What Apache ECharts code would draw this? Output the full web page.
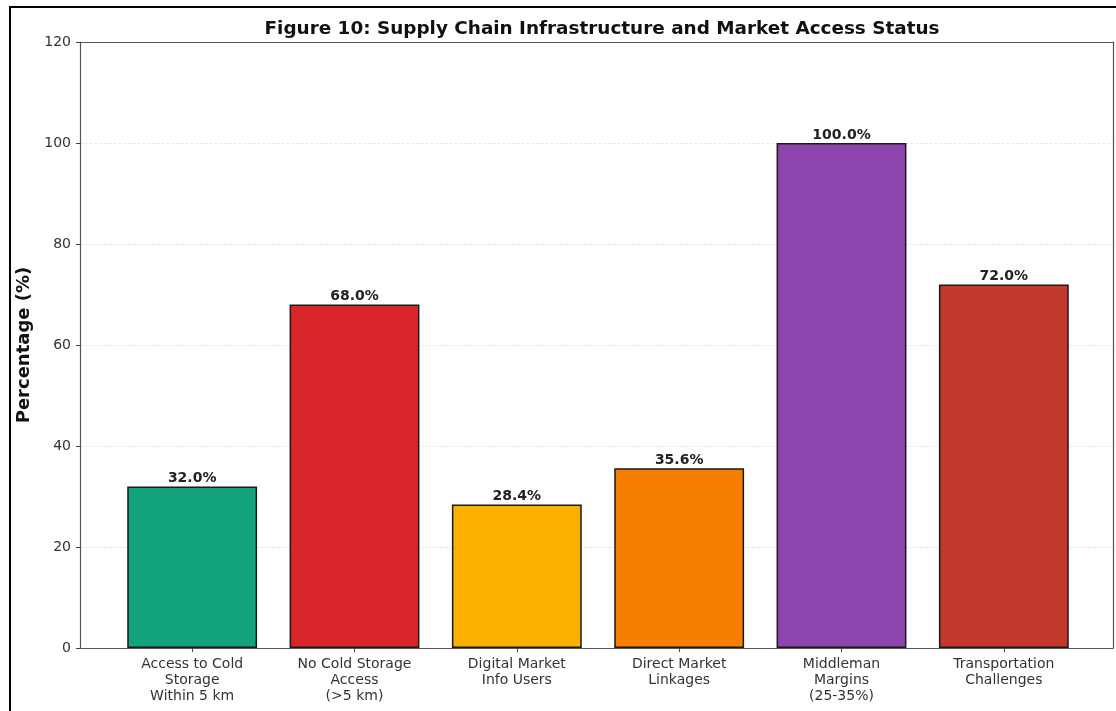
<!DOCTYPE html>
<html>
<head>
<meta charset="utf-8">
<script src="https://cdn.jsdelivr.net/npm/echarts@6/dist/echarts.min.js"></script>
<style>
  html, body { margin: 0; padding: 0; background: #fff; overflow: hidden; }
  #chart { width: 1116px; height: 711px; }
  #frame { position: absolute; left: 9px; top: 6px; width: 1300px; height: 900px;
           border: 2px solid #000; pointer-events: none; }
</style>
</head>
<body>
<div id="chart"></div>
<div id="frame"></div>
<script>
// Supply chain indicators (percent of respondents)
const categories = [
  'Access to Cold\nStorage\nWithin 5 km',
  'No Cold Storage\nAccess\n(>5 km)',
  'Digital Market\nInfo Users',
  'Direct Market\nLinkages',
  'Middleman\nMargins\n(25-35%)',
  'Transportation\nChallenges'
];
const values = [32.0, 68.0, 28.4, 35.6, 100.0, 72.0];
const barColors = ['#12a37b', '#d9262a', '#fcb000', '#f77f00', '#8e44ad', '#c0392b'];
const yTicks = { min: 0, max: 120, interval: 20 };

const chart = echarts.init(document.getElementById('chart'), null, { renderer: 'canvas' });
const font = 'DejaVu Sans';
const spine = { show: true, onZero: false, lineStyle: { color: '#555', width: 1.2 } };

chart.setOption({
  animation: false,
  title: {
    text: 'Figure 10: Supply Chain Infrastructure and Market Access Status',
    left: 597, top: 15, textAlign: 'center',
    textStyle: { fontFamily: font, fontWeight: 'bold', fontSize: 18.4, color: '#111' }
  },
  grid: [
    // frame holding the y scale, gridlines and spines
    { left: 80, right: 3, top: 42, bottom: 63 },
    // bar area (category spacing with side margins)
    { left: 111, right: 31, top: 42, bottom: 63 }
  ],
  xAxis: [
    { gridIndex: 0, type: 'value', min: 0, max: 1, position: 'bottom',
      axisLine: spine, axisTick: { show: false }, axisLabel: { show: false }, splitLine: { show: false } },
    { gridIndex: 0, type: 'value', min: 0, max: 1, position: 'top',
      axisLine: spine, axisTick: { show: false }, axisLabel: { show: false }, splitLine: { show: false } },
    {
      gridIndex: 1, type: 'category', data: categories,
      axisLine: { show: false },
      axisTick: { show: true, alignWithLabel: true, length: 4, lineStyle: { color: '#444' } },
      axisLabel: { fontFamily: font, fontSize: 14, color: '#333', lineHeight: 16, margin: 8, interval: 0 }
    }
  ],
  yAxis: [
    {
      gridIndex: 0, type: 'value', min: yTicks.min, max: yTicks.max, interval: yTicks.interval,
      position: 'left',
      name: 'Percentage (%)', nameLocation: 'middle', nameGap: 40,
      nameTextStyle: { fontFamily: font, fontWeight: 'bold', fontSize: 18, color: '#111' },
      axisLine: spine,
      axisTick: { show: true, length: 4, lineStyle: { color: '#444' } },
      axisLabel: { fontFamily: font, fontSize: 14, color: '#333', margin: 9 },
      splitLine: { show: true, lineStyle: { color: '#e2e2e2', type: 'dashed', width: 0.8 } }
    },
    { gridIndex: 0, type: 'value', min: yTicks.min, max: yTicks.max, position: 'right',
      axisLine: spine, axisTick: { show: false }, axisLabel: { show: false }, splitLine: { show: false } },
    { gridIndex: 1, type: 'value', min: yTicks.min, max: yTicks.max, show: false, splitLine: { show: false } }
  ],
  series: [{
    type: 'bar', xAxisIndex: 2, yAxisIndex: 2,
    barWidth: '80%',
    data: values.map((v, i) => ({
      value: v,
      itemStyle: { color: barColors[i], borderColor: '#1a1a1a', borderWidth: 1.5 }
    })),
    label: {
      show: true, position: 'top', distance: 1,
      formatter: p => p.value.toFixed(1) + '%',
      fontFamily: font, fontWeight: 'bold', fontSize: 14, color: '#222'
    }
  }]
});
</script>
</body>
</html>
